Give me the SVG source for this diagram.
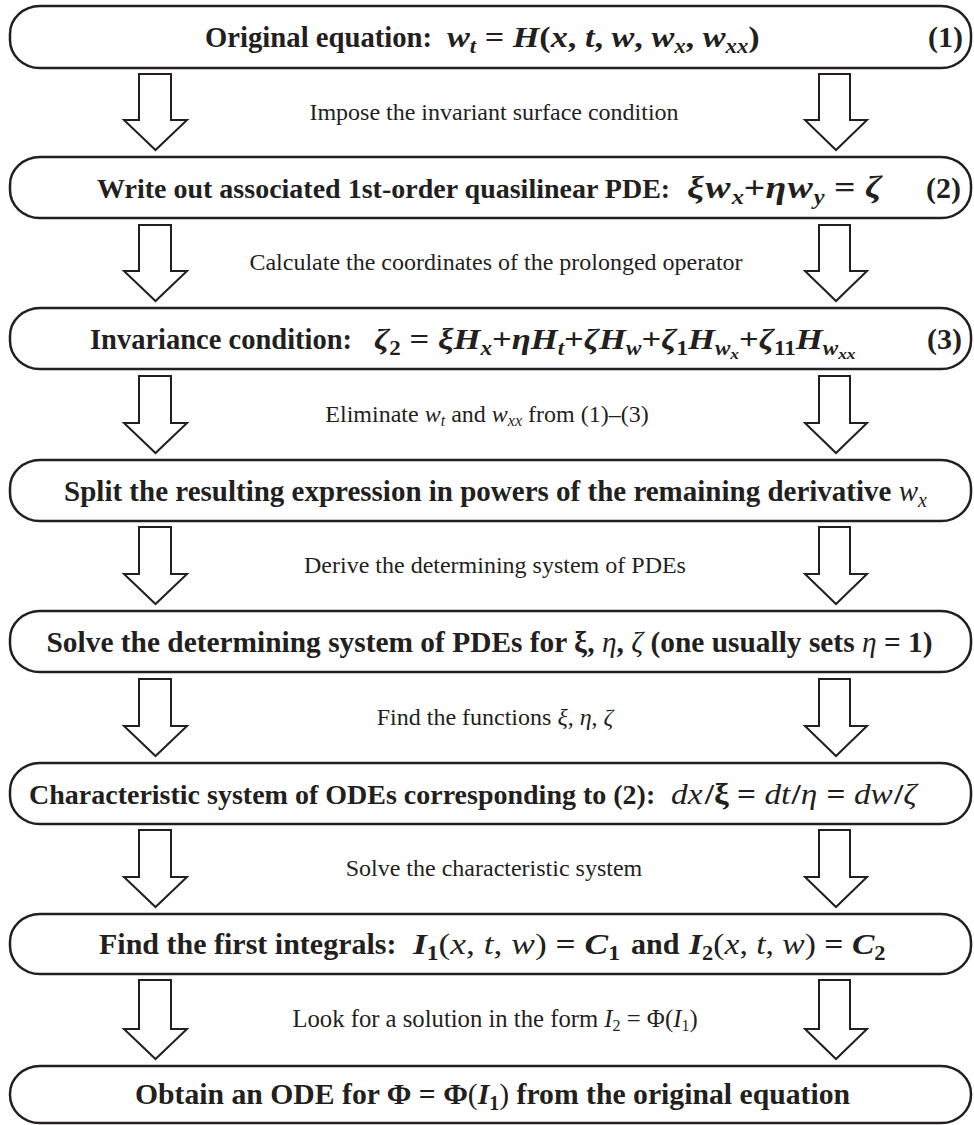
<svg xmlns="http://www.w3.org/2000/svg" width="974" height="1125" viewBox="0 0 974 1125">
<style>
.box{fill:#fff;stroke:#231f20;stroke-width:2.5}
.arr{fill:#fff;stroke:#231f20;stroke-width:2;stroke-linejoin:miter}
.bt{font-family:"Liberation Serif",serif;font-weight:bold;font-size:30px;fill:#231f20;white-space:pre}
.lb{font-family:"Liberation Serif",serif;font-size:24px;fill:#231f20;white-space:pre}
.m{font-style:italic}
.s{font-style:italic;font-size:20px}
.s2{font-style:italic;font-size:15px}
.ls{font-size:16px}
.r{font-style:normal}
.n{font-weight:normal}
</style>
<g id="connectors">
<path class="arr" d="M139,74H171V120H187L155.5,150L124,120H139Z"/>
<path class="arr" d="M819,74H850V120H867L836,150L805,120H819Z"/>
<path class="arr" d="M139,225H171V271H187L155.5,301L124,271H139Z"/>
<path class="arr" d="M819,225H850V271H867L836,301L805,271H819Z"/>
<path class="arr" d="M139,376H171V423H187L155.5,453L124,423H139Z"/>
<path class="arr" d="M819,376H850V423H867L836,453L805,423H819Z"/>
<path class="arr" d="M139,527H171V574H187L155.5,604L124,574H139Z"/>
<path class="arr" d="M819,527H850V574H867L836,604L805,574H819Z"/>
<path class="arr" d="M139,679H171V726H187L155.5,756L124,726H139Z"/>
<path class="arr" d="M819,679H850V726H867L836,756L805,726H819Z"/>
<path class="arr" d="M139,830H171V877H187L155.5,907L124,877H139Z"/>
<path class="arr" d="M819,830H850V877H867L836,907L805,877H819Z"/>
<path class="arr" d="M139,980H171V1029H187L155.5,1059L124,1029H139Z"/>
<path class="arr" d="M819,980H850V1029H867L836,1059L805,1029H819Z"/>
<text class="lb" x="494" y="120" text-anchor="middle">Impose the invariant surface condition</text>
<text class="lb" x="496" y="270" text-anchor="middle">Calculate the coordinates of the prolonged operator</text>
<text class="lb" x="487" y="422" text-anchor="middle">Eliminate <tspan class="m">w</tspan><tspan class="s ls" dy="4">t</tspan><tspan dy="-4"> and </tspan><tspan class="m">w</tspan><tspan class="s ls" dy="4">xx</tspan><tspan dy="-4"> from (1)–(3)</tspan></text>
<text class="lb" x="495" y="573" text-anchor="middle">Derive the determining system of PDEs</text>
<text class="lb" x="495" y="725" text-anchor="middle">Find the functions <tspan class="m">ξ</tspan>, <tspan class="m">η</tspan>, <tspan class="m">ζ</tspan></text>
<text class="lb" x="494" y="876" text-anchor="middle">Solve the characteristic system</text>
<text class="lb" x="495" y="1027" text-anchor="middle" style="font-size:24.7px">Look for a solution in the form <tspan class="m">I</tspan><tspan class="ls" dy="4">2</tspan><tspan dy="-4"> = Φ(</tspan><tspan class="m">I</tspan><tspan class="ls" dy="4">1</tspan><tspan dy="-4">)</tspan></text>
</g>
<g id="node1">
<rect class="box" x="10" y="6" width="961" height="62" rx="30" ry="28"/>
<text class="bt" x="205" y="47" style="font-size:28.7px">Original equation:</text>
<g transform="translate(447,47) scale(1.14,1)"><text class="bt" x="0" y="0"><tspan class="m">w</tspan><tspan class="s" dy="6">t</tspan><tspan class="r" dy="-6"> = </tspan><tspan class="m">H</tspan><tspan class="r">(</tspan><tspan class="m">x</tspan><tspan class="r">, </tspan><tspan class="m">t</tspan><tspan class="r">, </tspan><tspan class="m">w</tspan><tspan class="r">, </tspan><tspan class="m">w</tspan><tspan class="s" dy="6">x</tspan><tspan class="r" dy="-6">, </tspan><tspan class="m">w</tspan><tspan class="s" dy="6">xx</tspan><tspan class="r" dy="-6">)</tspan></text></g>
<text class="bt" x="963" y="47" text-anchor="end">(1)</text>
</g>
<g id="node2">
<rect class="box" x="10" y="157" width="961" height="61" rx="30" ry="28"/>
<text class="bt" x="97" y="198" style="font-size:28px">Write out associated 1st-order quasilinear PDE:</text>
<g transform="translate(687,198) scale(1.22,1)"><text class="bt" x="0" y="0" style="font-size:31px"><tspan class="m">ξ</tspan><tspan class="m" dx="1">w</tspan><tspan class="s" dx="1" dy="6">x</tspan><tspan class="r" dy="-6">+</tspan><tspan class="m">η</tspan><tspan class="m" dx="1">w</tspan><tspan class="s" dx="1" dy="6">y</tspan><tspan class="r" dy="-6"> = </tspan><tspan class="m">ζ</tspan></text></g>
<text class="bt" x="961" y="198" text-anchor="end">(2)</text>
</g>
<g id="node3">
<rect class="box" x="10" y="308" width="961" height="61" rx="30" ry="28"/>
<text class="bt" x="90" y="349" style="font-size:28.5px">Invariance condition:</text>
<g transform="translate(374,349) scale(1.155,1)"><text class="bt" x="0" y="0"><tspan class="m">ζ</tspan><tspan class="s r" dy="6">2</tspan><tspan class="r" dy="-6"> = </tspan><tspan class="m">ξH</tspan><tspan class="s" dy="6">x</tspan><tspan class="r" dy="-6">+</tspan><tspan class="m">ηH</tspan><tspan class="s" dy="6">t</tspan><tspan class="r" dy="-6">+</tspan><tspan class="m">ζH</tspan><tspan class="s" dy="6">w</tspan><tspan class="r" dy="-6">+</tspan><tspan class="m">ζ</tspan><tspan class="s r" dy="6">1</tspan><tspan class="m" dy="-6">H</tspan><tspan class="s" dy="6">w</tspan><tspan class="s2" dy="4">x</tspan><tspan class="r" dy="-10">+</tspan><tspan class="m">ζ</tspan><tspan class="s r" dy="6">11</tspan><tspan class="m" dy="-6">H</tspan><tspan class="s" dy="6">w</tspan><tspan class="s2" dy="4">xx</tspan></text></g>
<text class="bt" x="962" y="349" text-anchor="end">(3)</text>
</g>
<g id="node4">
<rect class="box" x="10" y="460" width="961" height="61" rx="30" ry="28"/>
<text class="bt" x="495.5" y="501" text-anchor="middle" style="font-size:29px">Split the resulting expression in powers of the remaining derivative <tspan class="m n">w</tspan><tspan class="s n" dy="6">x</tspan></text>
</g>
<g id="node5">
<rect class="box" x="10" y="611" width="961" height="61" rx="30" ry="28"/>
<text class="bt" x="489.5" y="652" text-anchor="middle" style="font-size:29.4px">Solve the determining system of PDEs for ξ, <tspan class="m n">η</tspan>, <tspan class="m n">ζ</tspan> (one usually sets <tspan class="m n">η</tspan> = 1)</text>
</g>
<g id="node6">
<rect class="box" x="10" y="763" width="961" height="61" rx="30" ry="28"/>
<text class="bt" x="29" y="804" style="font-size:28px">Characteristic system of ODEs corresponding to (2):</text>
<g transform="translate(671,804) scale(1.11,1)"><text class="bt" x="0" y="0"><tspan class="m n">dx</tspan><tspan dx="2">/ξ = </tspan><tspan class="m n">dt</tspan><tspan dx="1">/</tspan><tspan class="m n">η</tspan><tspan dx="1"> = </tspan><tspan class="m n">dw</tspan><tspan dx="1">/</tspan><tspan class="m n">ζ</tspan></text></g>
</g>
<g id="node7">
<rect class="box" x="10" y="914" width="961" height="60" rx="30" ry="28"/>
<text class="bt" x="99" y="954">Find the first integrals:</text>
<g transform="translate(413,954) scale(1.18,1)"><text class="bt" x="0" y="0"><tspan class="m">I</tspan><tspan class="r" dy="6" style="font-size:20px">1</tspan><tspan class="n" dy="-6">(</tspan><tspan class="m n">x</tspan><tspan class="n">, </tspan><tspan class="m n">t</tspan><tspan class="n">, </tspan><tspan class="m n">w</tspan><tspan class="n">)</tspan> = <tspan class="m">C</tspan><tspan class="r" dy="6" style="font-size:20px">1</tspan></text></g>
<text class="bt" x="631" y="954">and</text>
<g transform="translate(689,954) scale(1.12,1)"><text class="bt" x="0" y="0"><tspan class="m">I</tspan><tspan class="r" dy="6" style="font-size:20px">2</tspan><tspan class="n" dy="-6">(</tspan><tspan class="m n">x</tspan><tspan class="n">, </tspan><tspan class="m n">t</tspan><tspan class="n">, </tspan><tspan class="m n">w</tspan><tspan class="n">)</tspan> = <tspan class="m">C</tspan><tspan class="r" dy="6" style="font-size:20px">2</tspan></text></g>
</g>
<g id="node8">
<rect class="box" x="10" y="1066" width="961" height="57" rx="30" ry="28"/>
<text class="bt" x="492.5" y="1104" text-anchor="middle" style="font-size:29.7px">Obtain an ODE for Φ = Φ<tspan class="n">(</tspan><tspan class="m">I</tspan><tspan dy="6" style="font-size:20px">1</tspan><tspan class="n" dy="-6">)</tspan> from the original equation</text>
</g>
</svg>
